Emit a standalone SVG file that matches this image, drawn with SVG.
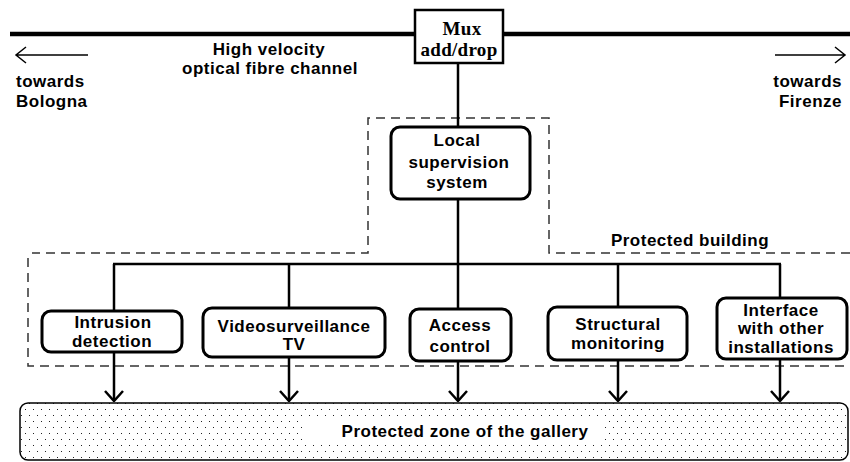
<svg xmlns="http://www.w3.org/2000/svg" width="850" height="462" viewBox="0 0 850 462">
  <style>
    text { font-family: "Liberation Sans", Arial, sans-serif; font-weight: bold; font-size: 17px; letter-spacing: 0.5px; fill: #000; }
    .mid { text-anchor: middle; }
    .end { text-anchor: end; }
    .serif { font-family: "Liberation Serif", "Times New Roman", serif; font-size: 19px; letter-spacing: 0.3px; }
    .box { fill: #fff; stroke: #000; stroke-width: 3; }
    .wire { stroke: #000; stroke-width: 2.5; fill: none; }
    .dash { stroke: #333; stroke-width: 1.5; fill: none; stroke-dasharray: 9 6; }
    .thin { stroke: #000; stroke-width: 1.5; fill: none; }
  </style>
  <defs>
    <pattern id="dots" width="8" height="12" patternUnits="userSpaceOnUse">
      <rect x="1" y="1" width="1" height="1" fill="#222"/>
      <rect x="5" y="7" width="1" height="1" fill="#222"/>
    </pattern>
    <marker id="vhead" viewBox="0 0 20 12" markerWidth="20" markerHeight="12" refX="10" refY="11" markerUnits="userSpaceOnUse" orient="0">
      <path d="M1,1 L10,11 L19,1" fill="none" stroke="#000" stroke-width="2.5"/>
    </marker>
  </defs>

  <rect width="850" height="462" fill="#fff"/>

  <!-- protected building boundary -->
  <path class="dash" d="M850,253 H549 V118 H368 V253 H32 M28,258 V366 H850"/>
  <text x="690" y="246" class="mid">Protected building</text>

  <!-- fibre channel -->
  <g id="fibre">
    <line x1="10" y1="34" x2="850" y2="34" stroke="#000" stroke-width="4.5"/>
    <path class="thin" d="M88,55 H16 M26,47 L16,55 L26,63"/>
    <path class="thin" d="M775,55 H845 M835,47 L845,55 L835,63"/>
    <text x="269" y="55" class="mid">High velocity</text>
    <text x="270" y="74" class="mid">optical fibre channel</text>
    <text x="16" y="87">towards</text>
    <text x="16" y="107">Bologna</text>
    <text x="842" y="87" class="end">towards</text>
    <text x="842" y="107" class="end">Firenze</text>
  </g>

  <!-- connectors -->
  <g id="connectors">
    <line class="wire" x1="458" y1="63" x2="458" y2="127"/>
    <line class="wire" x1="458" y1="199" x2="458" y2="264"/>
    <line class="wire" x1="113" y1="264" x2="781" y2="264"/>
    <line class="wire" x1="114" y1="264" x2="114" y2="311"/>
    <line class="wire" x1="289" y1="264" x2="289" y2="308"/>
    <line class="wire" x1="458" y1="264" x2="458" y2="309"/>
    <line class="wire" x1="618" y1="264" x2="618" y2="307"/>
    <line class="wire" x1="780" y1="264" x2="780" y2="298"/>
    <line class="wire" x1="114" y1="352" x2="114" y2="401" marker-end="url(#vhead)"/>
    <line class="wire" x1="289" y1="357" x2="289" y2="401" marker-end="url(#vhead)"/>
    <line class="wire" x1="458" y1="361" x2="458" y2="401" marker-end="url(#vhead)"/>
    <line class="wire" x1="618" y1="360" x2="618" y2="401" marker-end="url(#vhead)"/>
    <line class="wire" x1="780" y1="359" x2="780" y2="401" marker-end="url(#vhead)"/>
  </g>

  <g id="mux">
    <rect x="415" y="10" width="88" height="53" fill="#fff" stroke="#000" stroke-width="2.5"/>
    <text x="462" y="35" class="mid serif">Mux</text>
    <text x="459" y="56" class="mid serif">add/drop</text>
  </g>

  <g id="local-supervision">
    <rect class="box" x="391" y="127" width="139" height="72" rx="9"/>
    <text x="457" y="146" class="mid">Local</text>
    <text x="459" y="168" class="mid">supervision</text>
    <text x="457" y="188" class="mid">system</text>
  </g>

  <g id="intrusion">
    <rect class="box" x="42" y="311" width="140" height="41" rx="9"/>
    <text x="113" y="328" class="mid">Intrusion</text>
    <text x="112" y="347" class="mid">detection</text>
  </g>

  <g id="video">
    <rect class="box" x="203" y="308" width="182" height="49" rx="9"/>
    <text x="294" y="332" class="mid">Videosurveillance</text>
    <text x="294" y="350" class="mid">TV</text>
  </g>

  <g id="access">
    <rect class="box" x="410" y="309" width="101" height="52" rx="9"/>
    <text x="460" y="331" class="mid">Access</text>
    <text x="460" y="352" class="mid">control</text>
  </g>

  <g id="structural">
    <rect class="box" x="548" y="307" width="139" height="53" rx="9"/>
    <text x="618" y="330" class="mid">Structural</text>
    <text x="618" y="349" class="mid">monitoring</text>
  </g>

  <g id="interface">
    <rect class="box" x="717" y="298" width="130" height="61" rx="9"/>
    <text x="781" y="316" class="mid">Interface</text>
    <text x="781" y="334" class="mid">with other</text>
    <text x="781" y="353" class="mid">installations</text>
  </g>

  <g id="gallery">
    <rect x="20" y="403" width="828" height="57" rx="8" fill="url(#dots)" stroke="#000" stroke-width="1.5"/>
    <rect x="302" y="418" width="303" height="25" fill="#fff"/>
    <text x="465" y="437" class="mid">Protected zone of the gallery</text>
  </g>
</svg>
